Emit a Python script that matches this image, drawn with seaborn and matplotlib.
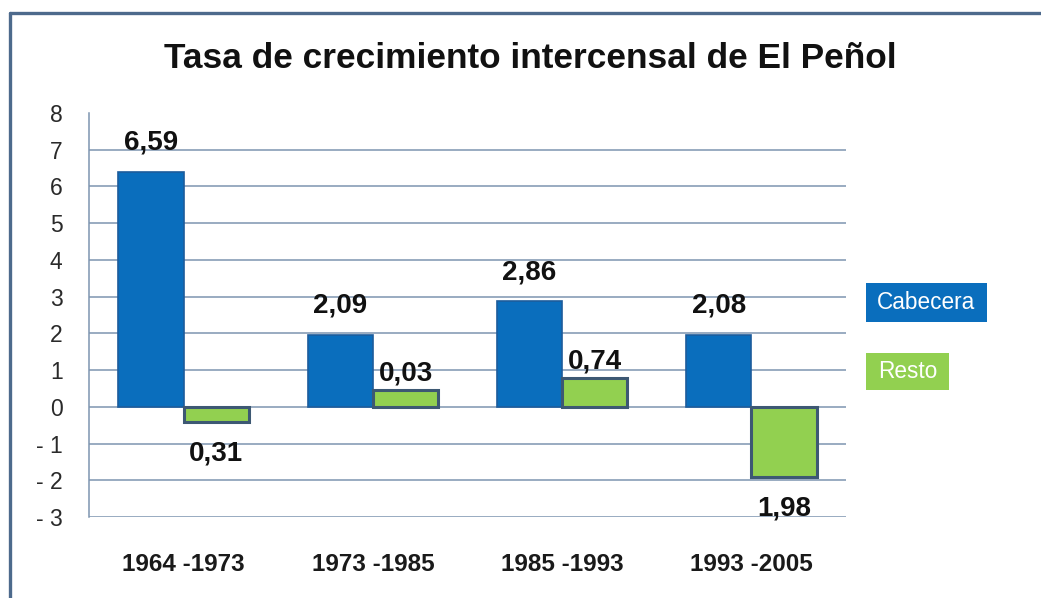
import matplotlib
matplotlib.use("Agg")
import matplotlib.pyplot as plt
import seaborn as sns
import pandas as pd
from matplotlib.patches import Rectangle
from matplotlib.lines import Line2D

# ---- data ----
periodos = ["1964 -1973", "1973 -1985", "1985 -1993", "1993 -2005"]
cabecera = [6.40, 1.96, 2.88, 1.96]
resto = [-0.41, 0.46, 0.79, -1.90]
etiquetas_cabecera = ["6,59", "2,09", "2,86", "2,08"]
etiquetas_resto = ["0,31", "0,03", "0,74", "1,98"]
series = ["Cabecera", "Resto"]
y_ticks = [-3, -2, -1, 0, 1, 2, 3, 4, 5, 6, 7, 8]
y_tick_labels = ["- 3", "- 2", "- 1", "0", "1", "2", "3", "4", "5", "6", "7", "8"]
titulo = "Tasa de crecimiento intercensal de El Peñol"

df = pd.DataFrame({
    "periodo": periodos * 2,
    "serie": [series[0]] * len(periodos) + [series[1]] * len(periodos),
    "valor": cabecera + resto,
})

sns.set_theme(style="white")
plt.rcParams["font.family"] = ["Liberation Sans", "DejaVu Sans"]

W, H = 1041, 598
BLUE = "#0A6EBD"
GREEN = "#92D050"
GRID = "#7d95b0"

fig = plt.figure(figsize=(W / 100, H / 100), dpi=100)
fig.patch.set_facecolor("white")
ax = fig.add_axes([89 / W, 1 - 517 / H, (846 - 89) / W, (517 - 113) / H])

sns.barplot(data=df, x="periodo", y="valor", hue="serie",
            palette={"Cabecera": BLUE, "Resto": GREEN},
            width=0.69, gap=0, saturation=1, legend=False, ax=ax)

edge_specs = [("#1d5c9c", 1.2), ("#3d5873", 2.2)]
for cont, (ec, lw) in zip(ax.containers, edge_specs):
    for bar in cont:
        bar.set_edgecolor(ec)
        bar.set_linewidth(lw)

ax.set_ylim(-3, 8)
ax.set_yticks(y_ticks)
ax.set_yticklabels(y_tick_labels, fontsize=16.5, color="#2a2a2a")
ax.tick_params(axis="y", length=0, pad=19)
ax.tick_params(axis="x", length=0, pad=26)
for t in ax.get_xticklabels():
    t.set_fontsize(17.5)
    t.set_fontweight("bold")
    t.set_color("#1a1a1a")
ax.set_xlabel("")
ax.set_ylabel("")
ax.set_axisbelow(True)
ax.grid(axis="y", color=GRID, lw=1.1)
ax.grid(axis="x", visible=False)
ax.get_ygridlines()[-1].set_visible(False)
for s in ["top", "right", "bottom"]:
    ax.spines[s].set_visible(False)
ax.spines["left"].set_color(GRID)
ax.spines["left"].set_linewidth(1.1)
ax.set_facecolor("white")

# value labels
for cont, labels, pos_off in zip(ax.containers, [etiquetas_cabecera, etiquetas_resto], [15.8, 6.5]):
    for bar, lab in zip(cont, labels):
        xc = bar.get_x() + bar.get_width() / 2
        h = bar.get_height()
        if h >= 0:
            ax.annotate(lab, (xc, h), xytext=(0, pos_off), textcoords="offset points",
                        ha="center", va="baseline", fontsize=20, fontweight="bold", color="#111111")
        else:
            ax.annotate(lab, (xc, h), xytext=(0, -13.5), textcoords="offset points",
                        ha="center", va="top", fontsize=20, fontweight="bold", color="#111111")

# title
fig.text(530 / W, 1 - 68 / H, titulo, ha="center", va="baseline",
         fontsize=25.4, fontweight="bold", color="#111111")

# legend boxes
legend_boxes = [(866, 283, 121, 39, BLUE), (866, 353, 83, 37, GREEN)]
for name, (x0, y0, w, h, col) in zip(series, legend_boxes):
    fig.add_artist(Rectangle((x0 / W, 1 - (y0 + h) / H), w / W, h / H,
                             transform=fig.transFigure, facecolor=col, edgecolor="none"))
    fig.text((x0 + w / 2) / W, 1 - (y0 + h / 2) / H, name, ha="center", va="center",
             fontsize=16.3, color="white")

# frame border (top and left visible)
fig.add_artist(Line2D([10 / W, 1], [1 - 13 / H, 1 - 13 / H], transform=fig.transFigure,
                      color="#4d6a8c", lw=2.4))
fig.add_artist(Line2D([10 / W, 10 / W], [0, 1 - 13 / H], transform=fig.transFigure,
                      color="#4d6a8c", lw=2.4))

fig.savefig("out.png", dpi=100)
